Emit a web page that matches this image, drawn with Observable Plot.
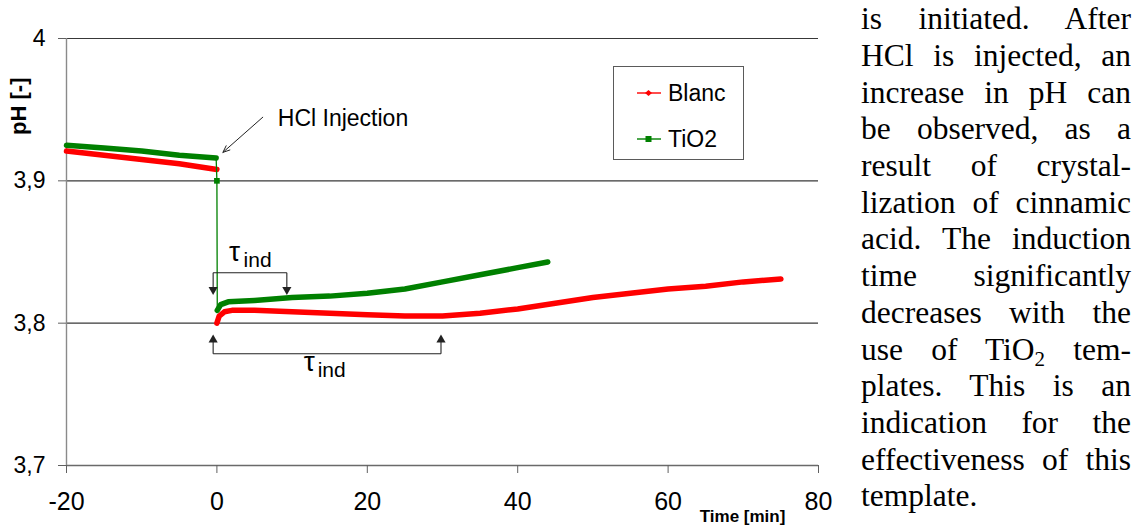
<!DOCTYPE html>
<html><head><meta charset="utf-8">
<script src="https://cdn.jsdelivr.net/npm/d3@7"></script>
<script src="https://cdn.jsdelivr.net/npm/@observablehq/plot@0.6"></script>
<style>
body{margin:0;background:#fff;}
#wrap{position:relative;width:1134px;height:526px;overflow:hidden;background:#fff;}
#wrap > svg{position:absolute;left:0;top:0;}
g[aria-label="y-axis tick label"]{font-size:23px;}
g[aria-label="x-axis tick label"]{font-size:25px;}
.legend{position:absolute;left:613px;top:66px;width:131px;height:94px;border:1.5px solid #5a5a5a;box-sizing:border-box;font-family:'Liberation Sans',Arial,sans-serif;font-size:23px;color:#000;}
.legend .row{position:absolute;height:26px;display:flex;align-items:center;}
.legend .row svg{display:block;flex:none;}
.legend .row span{margin-left:7px;}
.para div{position:absolute;left:861px;width:270px;font-family:'Liberation Serif','Times New Roman',serif;font-size:31.5px;line-height:32px;color:#000;text-align:justify;text-align-last:justify;}
.para div.last{text-align:left;text-align-last:left;}
</style></head><body><div id="wrap"></div>
<script>
// ---- data ----
const blancPreTime = [-20, -15, -10, -5, 0];
const blancPrePH   = [3.921, 3.918, 3.915, 3.912, 3.908];
const tio2PreTime  = [-20, -15, -10, -5, -0.1];
const tio2PrePH    = [3.925, 3.923, 3.921, 3.918, 3.916];
const injectionTime = [-0.1, 0, 0.05];
const injectionPH   = [3.916, 3.900, 3.809];
const blancPostTime = [0, 0.3, 1, 2, 5, 10, 15, 20, 25, 30, 35, 40, 45, 50, 55, 60, 65, 70, 75];
const blancPostPH   = [3.800, 3.805, 3.808, 3.809, 3.809, 3.808, 3.807, 3.806, 3.805, 3.805, 3.807, 3.810, 3.814, 3.818, 3.821, 3.824, 3.826, 3.829, 3.831];
const tio2PostTime  = [0.05, 0.5, 1.5, 5, 10, 15, 20, 25, 30, 35, 40, 44];
const tio2PostPH    = [3.809, 3.813, 3.815, 3.816, 3.818, 3.819, 3.821, 3.824, 3.829, 3.834, 3.839, 3.843];

const xTicks = [-20, 0, 20, 40, 60, 80];
const xTickLabels = ["-20", "0", "20", "40", "60", "80"];
const yTicks = [3.7, 3.8, 3.9, 4.0];
const yTickLabels = ["3,7", "3,8", "3,9", "4"];
const gridValues = [3.8, 3.9, 4.0];
const seriesNames = ["Blanc", "TiO2"];
const seriesColors = ["#ff0000", "#008000"];

// annotation anchors (data coordinates)
const hclArrow = [{x1: 6.1, y1: 3.9447, x2: 0.8, y2: 3.9200}];
const hclLabel = [{x: 8.1, y: 3.9435, text: "HCl Injection"}];
const bracketsH = [{x1: -0.5, x2: 9.3, y: 3.8354}, {x1: -0.5, x2: 29.8, y: 3.7785}];
const bracketsV = [
  {x: -0.5, y1: 3.8354, y2: 3.8222}, {x: 9.3, y1: 3.8354, y2: 3.8222},
  {x: -0.5, y1: 3.7785, y2: 3.7895}, {x: 29.8, y1: 3.7785, y2: 3.7895}
];
const arrowTips = [
  {x: -0.5, y: 3.8235, r: 180}, {x: 9.3, y: 3.8235, r: 180},
  {x: -0.5, y: 3.7883, r: 0}, {x: 29.8, y: 3.7883, r: 0}
];
const tauLabels = [{x: 1.6, y: 3.8500}, {x: 11.55, y: 3.7727}];
const indLabels = [{x: 3.55, y: 3.8440}, {x: 13.4, y: 3.7666}];
const yTitle = [{x: -26.3, y: 3.9524, text: "pH [-]"}];
const xTitle = [{x: 69.9, y: 3.6640, text: "Time [min]"}];

const paragraphLines = [
  "is initiated. After", "HCl is injected, an", "increase in pH can", "be observed, as a",
  "result of crystal-", "lization of cinnamic", "acid. The induction", "time significantly",
  "decreases with the", "use of TiO<span style=\"font-size:21px;vertical-align:-6px;line-height:0\">2</span> tem-",
  "plates. This is an", "indication for the", "effectiveness of this", "template."
];

// ---- build tables ----
const zip = (ts, ps) => ts.map((t, i) => ({t, ph: ps[i]}));
const blancPre = zip(blancPreTime, blancPrePH);
const tio2Pre = zip(tio2PreTime, tio2PrePH);
const injection = zip(injectionTime, injectionPH);
const blancPost = zip(blancPostTime, blancPostPH);
const tio2Post = zip(tio2PostTime, tio2PostPH);

const plot = Plot.plot({
  width: 1134, height: 526,
  marginLeft: 66, marginRight: 316, marginTop: 38, marginBottom: 61,
  x: {domain: [-20, 80]},
  y: {domain: [3.7, 4.0]},
  style: {fontFamily: "'Liberation Sans', Arial, sans-serif", background: "transparent", color: "#000"},
  marks: [
    Plot.ruleY(gridValues, {stroke: "#383838", strokeWidth: 1.2}),
    Plot.ruleY([3.7], {stroke: "#6a6a6a", strokeWidth: 1.4}),
    Plot.ruleX([-20], {stroke: "#8a8a8a", strokeWidth: 1.4}),
    Plot.axisY(yTicks, {tickSize: 8, tickPadding: 13, stroke: "#606060", label: null,
      tickFormat: d => yTickLabels[yTicks.indexOf(d)]}),
    Plot.axisX(xTicks, {tickSize: 8, tickPadding: 19, stroke: "#606060", label: null,
      tickFormat: d => xTickLabels[xTicks.indexOf(d)]}),
    Plot.line(blancPre, {x: "t", y: "ph", stroke: seriesColors[0], strokeWidth: 5.5}),
    Plot.line(blancPost, {x: "t", y: "ph", stroke: seriesColors[0], strokeWidth: 5.5}),
    Plot.line(injection, {x: "t", y: "ph", stroke: seriesColors[1], strokeWidth: 1.3}),
    Plot.dot(injection.slice(1, 2), {x: "t", y: "ph", symbol: "square", r: 3.2, fill: seriesColors[1]}),
    Plot.line(tio2Pre, {x: "t", y: "ph", stroke: seriesColors[1], strokeWidth: 5.5}),
    Plot.line(tio2Post, {x: "t", y: "ph", stroke: seriesColors[1], strokeWidth: 5.5}),
    // HCl annotation
    Plot.arrow(hclArrow, {x1: "x1", y1: "y1", x2: "x2", y2: "y2", stroke: "#222", strokeWidth: 1, headLength: 11, headAngle: 45}),
    Plot.text(hclLabel, {x: "x", y: "y", text: "text", textAnchor: "start", fontSize: 23}),
    // induction time brackets
    Plot.link(bracketsH, {x1: "x1", x2: "x2", y1: "y", y2: "y", stroke: "#222", strokeWidth: 1.1}),
    Plot.link(bracketsV, {x1: "x", x2: "x", y1: "y1", y2: "y2", stroke: "#222", strokeWidth: 1.1}),
    Plot.dot(arrowTips, {x: "x", y: "y", symbol: "triangle", r: 3.4, fill: "#222", rotate: "r"}),
    Plot.text(tauLabels, {x: "x", y: "y", text: () => "τ", textAnchor: "start", fontSize: 28}),
    Plot.text(indLabels, {x: "x", y: "y", text: () => "ind", textAnchor: "start", fontSize: 21}),
    // axis titles
    Plot.text(yTitle, {x: "x", y: "y", text: "text", rotate: -90, textAnchor: "middle", lineAnchor: "middle", fontWeight: "bold", fontSize: 22}),
    Plot.text(xTitle, {x: "x", y: "y", text: "text", textAnchor: "middle", lineAnchor: "middle", fontWeight: "bold", fontSize: 17})
  ]
});

const wrap = document.getElementById("wrap");
wrap.appendChild(plot);

// legend
const legend = document.createElement("div");
legend.className = "legend";
const rowTops = [13, 59];
seriesNames.forEach((name, i) => {
  const row = document.createElement("div");
  row.className = "row";
  row.style.top = rowTops[i] + "px";
  row.style.left = "23px";
  const marker = i === 0
    ? `<polygon points="11.5,2 15,5 11.5,8 8,5" fill="${seriesColors[i]}"/>`
    : `<rect x="8.5" y="2" width="6" height="6" fill="${seriesColors[i]}"/>`;
  row.innerHTML = `<svg width="24" height="10"><line x1="0" x2="24" y1="5" y2="5" stroke="${seriesColors[i]}" stroke-width="1.4"/>${marker}</svg><span>${name}</span>`;
  legend.appendChild(row);
});
wrap.appendChild(legend);

// paragraph text beside the chart
const para = document.createElement("div");
para.className = "para";
const firstBaseline = 30, lineStep = 36.7;
paragraphLines.forEach((ln, i) => {
  const d = document.createElement("div");
  if (i === paragraphLines.length - 1) d.className = "last";
  d.style.top = (firstBaseline + i * lineStep - 26.8) + "px";
  d.innerHTML = ln;
  para.appendChild(d);
});
wrap.appendChild(para);
</script>
</body></html>
